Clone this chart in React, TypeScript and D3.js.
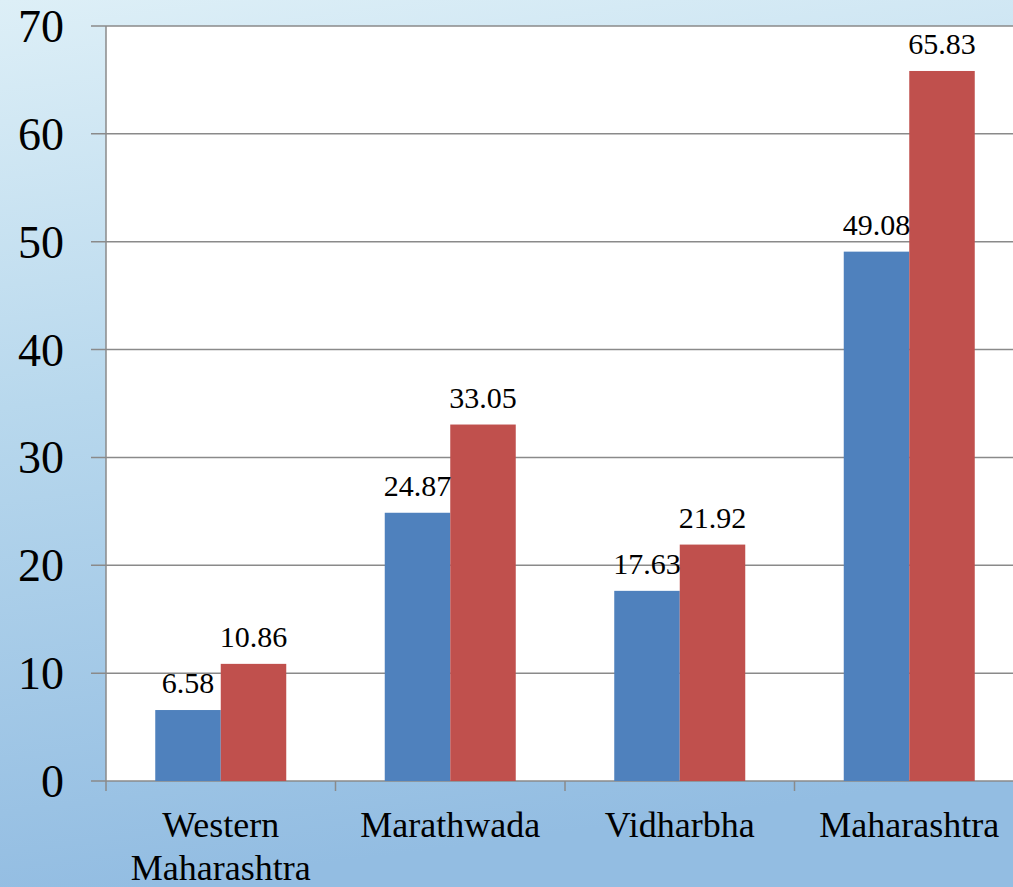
import React from "react";
import * as d3 from "d3";

const categories = ["Western\nMaharashtra", "Marathwada", "Vidharbha", "Maharashtra"];
const seriesA = [6.58, 24.87, 17.63, 49.08];
const seriesB = [10.86, 33.05, 21.92, 65.83];
const yTicks = [0, 10, 20, 30, 40, 50, 60, 70];

const W = 1013;
const H = 887;
const left = 106;
const top = 26;
const bottom = 781;
const catW = 229.5;

export default function App() {
  const x = d3
    .scaleBand<string>()
    .domain(categories)
    .range([left, left + catW * categories.length])
    .paddingInner(0)
    .paddingOuter(0);
  const y = d3.scaleLinear().domain([0, 70]).range([bottom, top]);
  const barW = 65.5;
  const right = left + catW * categories.length;
  const ff = "'Liberation Serif', 'Times New Roman', serif";

  return (
    <svg width={W} height={H} style={{ position: "absolute", left: 0, top: 0 }}>
      <defs>
        <linearGradient id="bg" x1="0" y1="0" x2="0.15" y2="1">
          <stop offset="0" stopColor="#ddeff7" />
          <stop offset="0.45" stopColor="#b8d8ed" />
          <stop offset="1" stopColor="#93bde2" />
        </linearGradient>
      </defs>
      <rect x={0} y={0} width={W} height={H} fill="url(#bg)" />
      <rect x={left} y={top} width={right - left} height={bottom - top} fill="#ffffff" />
      {yTicks.map((t) => (
        <g key={t}>
          <line x1={91} x2={right} y1={y(t)} y2={y(t)} stroke="#8a8a8a" strokeWidth={1.5} />
          <text x={64} y={y(t) + 16} textAnchor="end" fontSize={46} fill="#000" style={{ fontFamily: ff }}>
            {t}
          </text>
        </g>
      ))}
      <line x1={left} x2={left} y1={top} y2={bottom + 10} stroke="#8a8a8a" strokeWidth={1.5} />
      {categories.map((c, i) => (
        <line
          key={"t" + i}
          x1={x(c)! + catW}
          x2={x(c)! + catW}
          y1={bottom}
          y2={bottom + 10}
          stroke="#8a8a8a"
          strokeWidth={1.5}
        />
      ))}
      {categories.map((c, i) => {
        const cx = x(c)! + x.bandwidth() / 2;
        const a = seriesA[i];
        const b = seriesB[i];
        return (
          <g key={c}>
            <rect x={cx - barW} y={y(a)} width={barW} height={bottom - y(a)} fill="#4f81bd" />
            <rect x={cx} y={y(b)} width={barW} height={bottom - y(b)} fill="#c0504d" />
            <text x={cx - barW / 2} y={y(a) - 17} textAnchor="middle" fontSize={30} fill="#000" style={{ fontFamily: ff }}>
              {a.toFixed(2)}
            </text>
            <text x={cx + barW / 2} y={y(b) - 17} textAnchor="middle" fontSize={30} fill="#000" style={{ fontFamily: ff }}>
              {b.toFixed(2)}
            </text>
            {c.split("\n").map((ln, j) => (
              <text key={j} x={cx} y={837 + j * 43} textAnchor="middle" fontSize={36} fill="#000" style={{ fontFamily: ff }}>
                {ln}
              </text>
            ))}
          </g>
        );
      })}
    </svg>
  );
}
